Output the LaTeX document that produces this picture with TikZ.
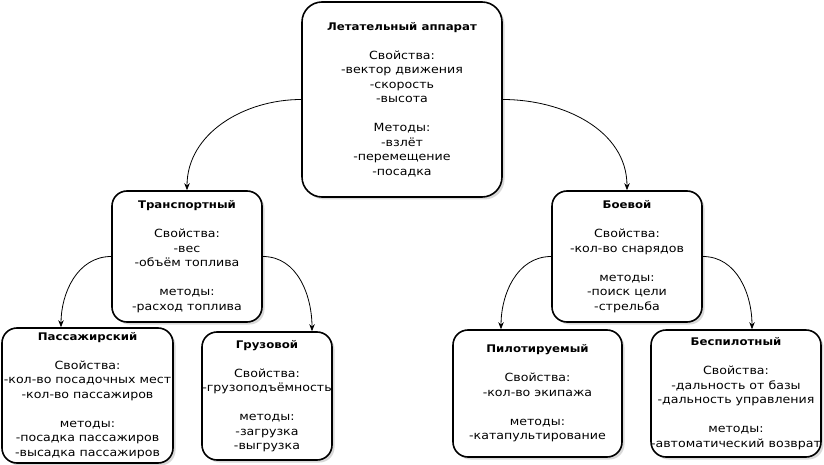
\documentclass[tikz,border=0pt]{standalone}
\usepackage{fontspec}
\setmainfont{DejaVu Sans}[FakeStretch=1.12]
\usetikzlibrary{arrows.meta,shadows,positioning}
\newcommand{\ttl}[1]{{\fontsize{10.5}{14.5}\selectfont\bfseries #1}}
\tikzset{
  box/.style={draw=black, line width=1.6pt, fill=white, rounded corners=15pt, align=center,
    font=\fontsize{11.25}{14.5}\selectfont, inner sep=0pt,
    drop shadow={shadow xshift=2.5pt, shadow yshift=-2.5pt, opacity=0.3, fill=gray}},
  conn/.style={draw=black, line width=0.8pt, -{Stealth[length=7pt,width=5.5pt]}}
}
\begin{document}
\begin{tikzpicture}[x=1pt,y=-1pt]
\useasboundingbox (0,0) rectangle (824,465);
\node[box, rounded corners=20pt, minimum width=200pt, minimum height=195pt] (root) at (402,99.5)
 {\ttl{Летательный аппарат}\\[14.5pt]Свойства:\\-вектор движения\\-скорость\\-высота\\[14.5pt]Методы:\\-взлёт\\-перемещение\\-посадка};
\node[box, minimum width=150pt, minimum height=131pt] (tr) at (187,256.5)
 {\ttl{Транспортный}\\[14.5pt]Свойства:\\-вес\\-объём топлива\\[14.5pt]методы:\\-расход топлива};
\node[box, minimum width=150pt, minimum height=131pt] (war) at (627,256.5)
 {\ttl{Боевой}\\[14.5pt]Свойства:\\-кол-во снарядов\\[14.5pt]методы:\\-поиск цели\\-стрельба};
\node[box, minimum width=171pt, minimum height=135pt] (pass) at (87.5,395.5)
 {\ttl{Пассажирский}\\[14.5pt]Свойства:\\-кол-во посадочных мест\\-кол-во пассажиров\\[14.5pt]методы:\\-посадка пассажиров\\-высадка пассажиров};
\node[box, minimum width=130pt, minimum height=128pt] (cargo) at (267,396)
 {\ttl{Грузовой}\\[14.5pt]Свойства:\\-грузоподъёмность\\[14.5pt]методы:\\-загрузка\\-выгрузка};
\node[box, minimum width=169pt, minimum height=127pt] (pil) at (537.5,393.5)
 {\ttl{Пилотируемый}\\[14.5pt]Свойства:\\-кол-во экипажа\\[14.5pt]методы:\\-катапультирование};
\node[box, minimum width=168pt, minimum height=127pt] (bpl) at (736,393.5)
 {\ttl{Беспилотный}\\[14.5pt]Свойства:\\-дальность от базы\\-дальность управления\\[14.5pt]методы:\\-автоматический возврат};
\draw[conn] (root.west) to[out=180,in=90] (tr.north);
\draw[conn] (root.east) to[out=0,in=90] (war.north);
\draw[conn] (tr.west) to[out=180,in=90] (61,0 |- pass.north);
\draw[conn] (tr.east) to[out=0,in=90] (312,0 |- cargo.north);
\draw[conn] (war.west) to[out=180,in=90] (501,0 |- pil.north);
\draw[conn] (war.east) to[out=0,in=90] (752,0 |- bpl.north);
\end{tikzpicture}
\end{document}
